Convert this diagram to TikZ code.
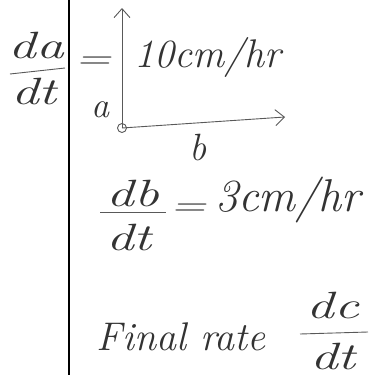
\documentclass[tikz,border=0pt]{standalone}
\usepackage{fontspec}
\usetikzlibrary{arrows.meta}
\newcommand{\fs}[1]{\fontsize{#1}{#1}\selectfont\itshape}
\begin{document}
\begin{tikzpicture}[x=1pt,y=-1pt,
  hw/.style={text=black!80, inner sep=0pt},
  wide/.style={hw, xscale=1.45, font=\fs{38}},
  eqs/.style={hw, xscale=1.5, font=\fs{32}},
  pen/.style={draw=black!65, line width=0.9pt},
  axis/.style={pen, -{Straight Barb[length=9pt,width=16pt]}}]
\useasboundingbox (0,0) rectangle (375,375);
\draw[line width=1.6pt] (69,0) -- (69,375);
% left fraction da/dt
\node[wide] (da) at (36,46) {da};
\node[wide] (dtl) at (34,92) {dt};
\draw[pen] (10,74) -- (65,68);
\node[eqs] (eq1) at (93,63) {=};
% axes
\coordinate (O) at (122,128);
\draw[pen] (O) circle (4.5);
\draw[axis] (O) -- (122,8);
\draw[axis] (O) -- (285,117);
\node[hw, font=\fs{36}] (a) at (100,110) {a};
\node[hw, font=\fs{38}] (b) at (198,148) {b};
\node[hw, font=\fs{40}] (r1) at (208,57) {10cm/hr};
% db/dt
\node[wide] (db) at (133,194) {db};
\node[wide] (dt2) at (129,238) {dt};
\draw[pen] (100,212) -- (166,212);
\node[eqs] (eq2) at (188,210) {=};
\node[hw, font=\fs{46}] (r2) at (288,200) {3cm/hr};
% final rate
\node[hw, font=\fs{40}] (fr) at (181,337) {Final rate};
\node[wide] (dc) at (333,305) {dc};
\draw[pen] (300,334) -- (368,332);
\node[wide] (dt3) at (333,356) {dt};
\end{tikzpicture}
\end{document}
